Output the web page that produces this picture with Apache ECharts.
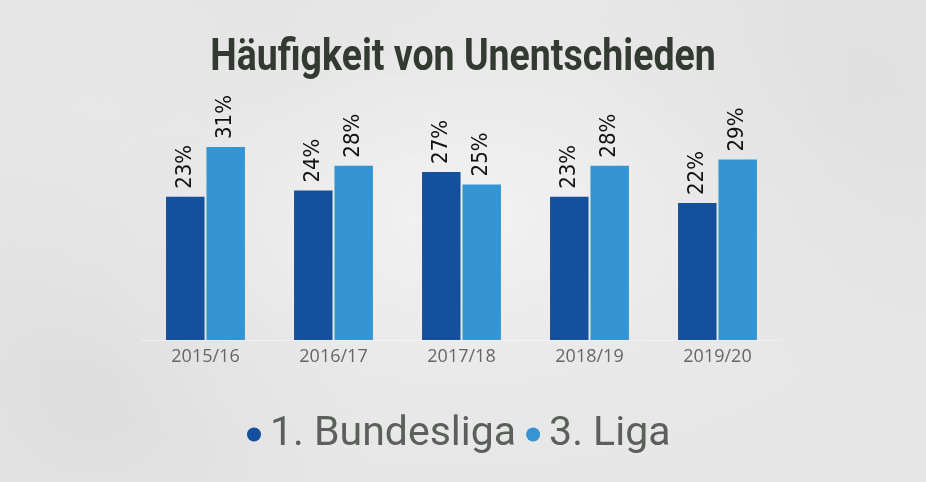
<!DOCTYPE html>
<html>
<head>
<meta charset="utf-8">
<script src="https://cdn.jsdelivr.net/npm/echarts@6/dist/echarts.min.js"></script>
<style>
  html, body { margin: 0; padding: 0; }
  body {
    width: 926px; height: 482px; overflow: hidden;
    background-color: #e7e7e7;
    background-image:
      radial-gradient(ellipse at 50% 45%, rgba(243,243,243,0.9) 0%, rgba(235,235,235,0.4) 45%, rgba(220,220,220,0) 75%),
      radial-gradient(circle at 10% 80%, rgba(215,215,215,0.6) 0%, rgba(215,215,215,0) 30%),
      radial-gradient(circle at 92% 20%, rgba(218,218,218,0.6) 0%, rgba(218,218,218,0) 30%),
      radial-gradient(circle at 30% 10%, rgba(225,225,225,0.6) 0%, rgba(225,225,225,0) 25%);
  }
  #chart { width: 926px; height: 482px; }
</style>
</head>
<body>
<div id="chart"></div>
<script>
const titleText = 'Häufigkeit von Unentschieden';
const seasons = ['2015/16', '2016/17', '2017/18', '2018/19', '2019/20'];
const seriesNames = ['1. Bundesliga', '3. Liga'];
const bundesliga = [23, 24, 27, 23, 22];
const liga3 = [31, 28, 25, 28, 29];
const colors = ['#15509e', '#3595d4'];

const chart = echarts.init(document.getElementById('chart'), null, { renderer: 'canvas' });

const labelStyle = {
  show: true,
  position: 'top',
  rotate: 90,
  align: 'left',
  verticalAlign: 'middle',
  distance: 8,
  formatter: '{c}%',
  color: '#111',
  fontSize: 22,
  fontFamily: '"Liberation Sans Narrow", "DejaVu Sans Condensed", "DejaVu Sans", sans-serif'
};

chart.setOption({
  backgroundColor: 'transparent',
  animation: false,
  color: colors,
  graphic: [{
    type: 'text',
    x: 463,
    y: 59,
    scaleX: 0.84,
    style: {
      text: titleText,
      fontFamily: 'Roboto',
      fontWeight: 'bold',
      fontSize: 44.6,
      fill: '#323a32',
      align: 'center',
      verticalAlign: 'middle'
    }
  }],
  legend: {
    data: seriesNames,
    left: 242,
    top: 409,
    icon: 'circle',
    itemWidth: 14,
    itemHeight: 14,
    itemGap: 10,
    textStyle: {
      fontFamily: 'Roboto',
      fontSize: 41,
      color: '#5b605b',
      padding: [0, 0, 0, 4]
    }
  },
  grid: { left: 141.5, right: 144.5, top: 91, bottom: 142, containLabel: false },
  xAxis: {
    type: 'category',
    data: seasons,
    axisTick: { show: false },
    axisLine: { show: true, lineStyle: { color: 'rgba(255,255,255,0.4)', width: 1 } },
    axisLabel: {
      margin: 8,
      color: '#666',
      fontSize: 18,
      fontFamily: '"Open Sans", sans-serif'
    }
  },
  yAxis: {
    type: 'value',
    min: 0,
    max: 40,
    show: false,
    splitLine: { show: false }
  },
  series: [
    {
      name: seriesNames[0],
      type: 'bar',
      data: bundesliga,
      barWidth: 38.5,
      barGap: '5%',
      label: labelStyle
    },
    {
      name: seriesNames[1],
      type: 'bar',
      data: liga3,
      barWidth: 38.5,
      barGap: '5%',
      label: labelStyle
    }
  ]
});
</script>
</body>
</html>
